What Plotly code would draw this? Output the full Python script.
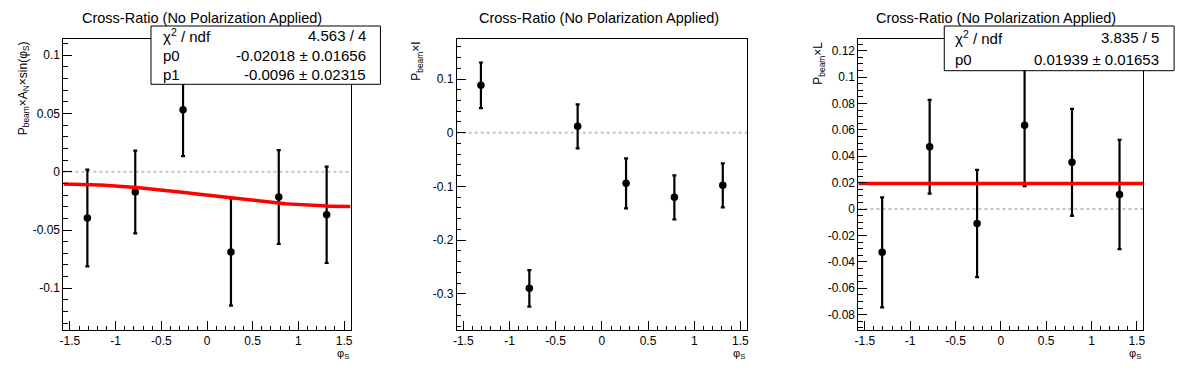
import numpy as np
import plotly.graph_objects as go

W, H = 1196, 372
OFF = 8  # default page margin of the html body
FW, FH = W - OFF, H - OFF

# ---------------- data ----------------
phi_centers = [-1.309, -0.785, -0.262, 0.262, 0.785, 1.309]

an_vals = [-0.0397, -0.0174, 0.0532, -0.0689, -0.0217, -0.0369]
an_errs = [0.0415, 0.0355, 0.0397, 0.0460, 0.0403, 0.0414]

i_vals = [0.0883, -0.2898, 0.0119, -0.0943, -0.1203, -0.0980]
i_errs = [0.0425, 0.0340, 0.0410, 0.0465, 0.0410, 0.0410]

l_vals = [-0.0328, 0.0472, -0.0109, 0.0634, 0.0354, 0.0111]
l_errs = [0.0417, 0.0355, 0.0406, 0.0460, 0.0405, 0.0414]

# fit parameters (from stat boxes)
an_fit_p0, an_fit_p1 = -0.02018, -0.0096
l_fit_p0 = 0.01939

x_tickvals = [-1.5, -1, -0.5, 0, 0.5, 1, 1.5]
x_ticktext = ["-1.5", "-1", "-0.5", "0", "0.5", "1", "1.5"]

an_tickvals = [-0.1, -0.05, 0, 0.05, 0.1]
an_ticktext = ["-0.1", "-0.05", "0", "0.05", "0.1"]

i_tickvals = [-0.3, -0.2, -0.1, 0, 0.1]
i_ticktext = ["-0.3", "-0.2", "-0.1", "0", "0.1"]

l_tickvals = [-0.08, -0.06, -0.04, -0.02, 0, 0.02, 0.04, 0.06, 0.08, 0.1, 0.12]
l_ticktext = ["-0.08", "-0.06", "-0.04", "-0.02", "0", "0.02", "0.04", "0.06", "0.08", "0.1", "0.12"]

title_text = "Cross-Ratio (No Polarization Applied)"

# ---------------- layout helpers ----------------
FONT = "Liberation Sans, Arial, Helvetica, sans-serif"


def px_x(p):
    return (p - OFF) / FW


def px_y(p):
    return 1 - (p - OFF) / FH


frames = [  # left, right, top, bottom (screen px)
    (59.7, 348.3, 39.3, 330.0),
    (455.0, 746.7, 39.3, 330.0),
    (858.7, 1145.0, 39.3, 330.0),
]
yranges = [(-0.1358, 0.1137), (-0.3674, 0.174), (-0.0916, 0.1286)]
yminor = [0.01, 0.02, 0.005]
yticks = [(an_tickvals, an_ticktext), (i_tickvals, i_ticktext), (l_tickvals, l_ticktext)]
xr = (-np.pi / 2, np.pi / 2)

fig = go.Figure()

series = [(an_vals, an_errs), (i_vals, i_errs), (l_vals, l_errs)]
for k, (vals, errs) in enumerate(series):
    sfx = "" if k == 0 else str(k + 1)
    fig.add_trace(go.Scatter(
        x=phi_centers, y=vals, mode="markers",
        marker=dict(color="black", size=7.5),
        error_y=dict(type="data", array=errs, visible=True, color="black",
                     thickness=2.2, width=2),
        xaxis="x" + sfx, yaxis="y" + sfx, showlegend=False,
    ))

# fit curves
xf = np.linspace(xr[0], xr[1], 200)
fig.add_trace(go.Scatter(
    x=xf, y=an_fit_p0 + an_fit_p1 * np.sin(xf), mode="lines",
    line=dict(color="red", width=3.5), xaxis="x", yaxis="y", showlegend=False))
fig.add_trace(go.Scatter(
    x=[xr[0], xr[1]], y=[l_fit_p0, l_fit_p0], mode="lines",
    line=dict(color="red", width=3.5), xaxis="x3", yaxis="y3", showlegend=False))

axis_common = dict(showline=True, linecolor="black", linewidth=1, mirror=True,
                   showgrid=False, zeroline=False, ticks="inside",
                   tickcolor="black", tickwidth=1,
                   tickfont=dict(family=FONT, size=12, color="black"))

layout = dict(width=FW, height=FH, margin=dict(l=0, r=0, t=0, b=0),
              paper_bgcolor="white", plot_bgcolor="white",
              font=dict(family=FONT, color="black"), showlegend=False)

shapes = []
annotations = []
for k, (l, r, t, b) in enumerate(frames):
    sfx = "" if k == 0 else str(k + 1)
    xa = dict(axis_common)
    xa.update(domain=[px_x(l), px_x(r)], range=list(xr), anchor="y" + sfx,
              tickmode="array", tickvals=x_tickvals, ticktext=x_ticktext,
              ticklen=9,
              minor=dict(tickmode="linear", tick0=0, dtick=0.1, ticklen=4.5,
                         ticks="inside", tickcolor="black", tickwidth=1))
    ya = dict(axis_common)
    ya.update(domain=[px_y(b), px_y(t)], range=list(yranges[k]), anchor="x" + sfx,
              tickmode="array", tickvals=yticks[k][0], ticktext=yticks[k][1],
              ticklen=9, ticklabelstandoff=0,
              minor=dict(tickmode="linear", tick0=0, dtick=yminor[k], ticklen=4.5,
                         ticks="inside", tickcolor="black", tickwidth=1))
    layout["xaxis" + sfx] = xa
    layout["yaxis" + sfx] = ya

    # dashed zero line
    shapes.append(dict(type="line", xref="x" + sfx + " domain", yref="y" + sfx,
                       x0=0, x1=1, y0=0, y1=0,
                       line=dict(color="#c4c4c4", width=2, dash="3px,3px"), layer="below"))

    # title
    annotations.append(dict(text=title_text, x=px_x((k + 0.5) * W / 3), y=px_y(OFF),
                            xref="paper", yref="paper", showarrow=False,
                            xanchor="center", yanchor="top",
                            font=dict(family=FONT, size=14.5, color="black")))
    # x title
    annotations.append(dict(text="φ<sub>S</sub>", x=px_x(r), y=px_y(345),
                            xref="paper", yref="paper", showarrow=False,
                            xanchor="right", yanchor="top",
                            font=dict(family=FONT, size=11, color="black")))

ytitles = [
    ("P<sub>beam</sub>×A<sub>N</sub>×sin(φ<sub>S</sub>)", 20),
    ("P<sub>beam</sub>×I", 415),
    ("P<sub>beam</sub>×L", 819),
]
for txt, xc in ytitles:
    annotations.append(dict(text=txt, x=px_x(xc), y=px_y(39.3), xref="paper", yref="paper",
                            showarrow=False, textangle=-90, xanchor="center", yanchor="top",
                            font=dict(family=FONT, size=12, color="black")))

# stat boxes
stat_boxes = [
    dict(box=(147.7, 378.3, 26.0, 84.3), lx=157.7, rx=365.7,
         rows=[("χ<sup>2</sup> / ndf", "4.563 / 4"),
               ("p0", "-0.02018 ± 0.01656"),
               ("p1", "-0.0096 ± 0.02315")]),
    dict(box=(945.0, 1176.0, 26.0, 70.7), lx=953.7, rx=1162.7,
         rows=[("χ<sup>2</sup> / ndf", "3.835 / 5"),
               ("p0", "0.01939 ± 0.01653")]),
]
for sb in stat_boxes:
    x0, x1, y0, y1 = sb["box"]
    shapes.append(dict(type="rect", xref="paper", yref="paper",
                       x0=px_x(x0), x1=px_x(x1), y0=px_y(y1), y1=px_y(y0),
                       line=dict(color="black", width=1), fillcolor="white", layer="above"))
    n = len(sb["rows"])
    step = (y1 - y0) / n
    for j, (lab, val) in enumerate(sb["rows"]):
        yc = y0 + step * (j + 0.5)
        annotations.append(dict(text=lab, x=px_x(sb["lx"]), y=px_y(yc), xref="paper", yref="paper",
                                showarrow=False, xanchor="left", yanchor="middle",
                                font=dict(family=FONT, size=15, color="black")))
        annotations.append(dict(text=val, x=px_x(sb["rx"]), y=px_y(yc), xref="paper", yref="paper",
                                showarrow=False, xanchor="right", yanchor="middle",
                                font=dict(family=FONT, size=15, color="black")))

layout["shapes"] = shapes
layout["annotations"] = annotations
fig.update_layout(**layout)

fig.write_html("out.html")
